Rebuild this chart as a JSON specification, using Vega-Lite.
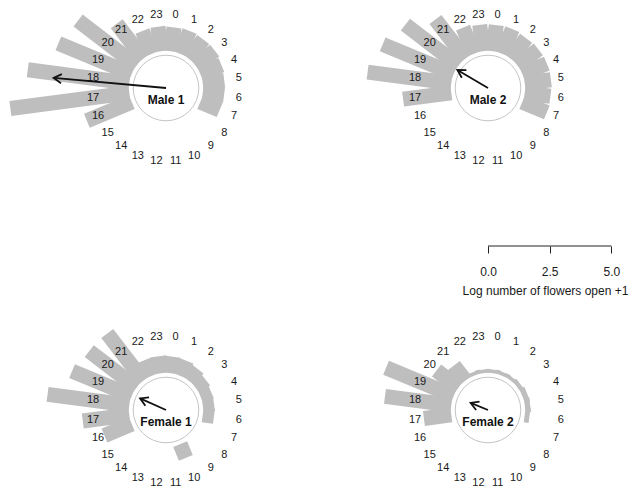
{
  "$schema": "https://vega.github.io/schema/vega-lite/v6.json",
  "padding": 0,
  "columns": 2,
  "spacing": 0,
  "bounds": "flush",
  "align": "each",
  "config": {
    "view": {"stroke": null},
    "font": "Liberation Sans"
  },
  "datasets": {
    "flowers": [
      {"plant": "Male 1", "hour": 0, "value": 0.97}, {"plant": "Male 1", "hour": 1, "value": 1.0},
      {"plant": "Male 1", "hour": 2, "value": 0.98}, {"plant": "Male 1", "hour": 3, "value": 0.99},
      {"plant": "Male 1", "hour": 4, "value": 0.93}, {"plant": "Male 1", "hour": 5, "value": 0.88},
      {"plant": "Male 1", "hour": 6, "value": 0.87}, {"plant": "Male 1", "hour": 7, "value": 0.85},
      {"plant": "Male 1", "hour": 8, "value": 0}, {"plant": "Male 1", "hour": 9, "value": 0},
      {"plant": "Male 1", "hour": 10, "value": 0}, {"plant": "Male 1", "hour": 11, "value": 0},
      {"plant": "Male 1", "hour": 12, "value": 0}, {"plant": "Male 1", "hour": 13, "value": 0},
      {"plant": "Male 1", "hour": 14, "value": 0}, {"plant": "Male 1", "hour": 15, "value": 0},
      {"plant": "Male 1", "hour": 16, "value": 1.97}, {"plant": "Male 1", "hour": 17, "value": 4.86},
      {"plant": "Male 1", "hour": 18, "value": 4.15}, {"plant": "Male 1", "hour": 19, "value": 3.22},
      {"plant": "Male 1", "hour": 20, "value": 2.99}, {"plant": "Male 1", "hour": 21, "value": 1.78},
      {"plant": "Male 1", "hour": 22, "value": 1.0}, {"plant": "Male 1", "hour": 23, "value": 1.0},

      {"plant": "Male 2", "hour": 0, "value": 1.07}, {"plant": "Male 2", "hour": 1, "value": 1.08},
      {"plant": "Male 2", "hour": 2, "value": 1.04}, {"plant": "Male 2", "hour": 3, "value": 1.07},
      {"plant": "Male 2", "hour": 4, "value": 1.08}, {"plant": "Male 2", "hour": 5, "value": 1.07},
      {"plant": "Male 2", "hour": 6, "value": 1.05}, {"plant": "Male 2", "hour": 7, "value": 1.08},
      {"plant": "Male 2", "hour": 8, "value": 0}, {"plant": "Male 2", "hour": 9, "value": 0},
      {"plant": "Male 2", "hour": 10, "value": 0}, {"plant": "Male 2", "hour": 11, "value": 0},
      {"plant": "Male 2", "hour": 12, "value": 0}, {"plant": "Male 2", "hour": 13, "value": 0},
      {"plant": "Male 2", "hour": 14, "value": 0}, {"plant": "Male 2", "hour": 15, "value": 0},
      {"plant": "Male 2", "hour": 16, "value": 0}, {"plant": "Male 2", "hour": 17, "value": 1.97},
      {"plant": "Male 2", "hour": 18, "value": 3.42}, {"plant": "Male 2", "hour": 19, "value": 3.12},
      {"plant": "Male 2", "hour": 20, "value": 2.72}, {"plant": "Male 2", "hour": 21, "value": 2.0},
      {"plant": "Male 2", "hour": 22, "value": 1.15}, {"plant": "Male 2", "hour": 23, "value": 1.08},

      {"plant": "Female 1", "hour": 0, "value": 0.68}, {"plant": "Female 1", "hour": 1, "value": 0.66},
      {"plant": "Female 1", "hour": 2, "value": 0.6}, {"plant": "Female 1", "hour": 3, "value": 0.52},
      {"plant": "Female 1", "hour": 4, "value": 0.47}, {"plant": "Female 1", "hour": 5, "value": 0.46},
      {"plant": "Female 1", "hour": 6, "value": 0.46}, {"plant": "Female 1", "hour": 7, "value": 0},
      {"plant": "Female 1", "hour": 8, "value": 0}, {"plant": "Female 1", "hour": 9, "value": 0},
      {"plant": "Female 1", "hour": 10, "value": 0.6}, {"plant": "Female 1", "hour": 11, "value": 0},
      {"plant": "Female 1", "hour": 12, "value": 0}, {"plant": "Female 1", "hour": 13, "value": 0},
      {"plant": "Female 1", "hour": 14, "value": 0}, {"plant": "Female 1", "hour": 15, "value": 0},
      {"plant": "Female 1", "hour": 16, "value": 1.2}, {"plant": "Female 1", "hour": 17, "value": 1.9},
      {"plant": "Female 1", "hour": 18, "value": 3.34}, {"plant": "Female 1", "hour": 19, "value": 2.62},
      {"plant": "Female 1", "hour": 20, "value": 2.42}, {"plant": "Female 1", "hour": 21, "value": 2.41},
      {"plant": "Female 1", "hour": 22, "value": 0.7}, {"plant": "Female 1", "hour": 23, "value": 0.7},

      {"plant": "Female 2", "hour": 0, "value": 0.15}, {"plant": "Female 2", "hour": 1, "value": 0.15},
      {"plant": "Female 2", "hour": 2, "value": 0.15}, {"plant": "Female 2", "hour": 3, "value": 0.18},
      {"plant": "Female 2", "hour": 4, "value": 0.22}, {"plant": "Female 2", "hour": 5, "value": 0.22},
      {"plant": "Female 2", "hour": 6, "value": 0.2}, {"plant": "Female 2", "hour": 7, "value": 0},
      {"plant": "Female 2", "hour": 8, "value": 0}, {"plant": "Female 2", "hour": 9, "value": 0},
      {"plant": "Female 2", "hour": 10, "value": 0}, {"plant": "Female 2", "hour": 11, "value": 0},
      {"plant": "Female 2", "hour": 12, "value": 0}, {"plant": "Female 2", "hour": 13, "value": 0},
      {"plant": "Female 2", "hour": 14, "value": 0}, {"plant": "Female 2", "hour": 15, "value": 0},
      {"plant": "Female 2", "hour": 16, "value": 0}, {"plant": "Female 2", "hour": 17, "value": 1.12},
      {"plant": "Female 2", "hour": 18, "value": 2.71}, {"plant": "Female 2", "hour": 19, "value": 2.97},
      {"plant": "Female 2", "hour": 20, "value": 1.13}, {"plant": "Female 2", "hour": 21, "value": 0.77},
      {"plant": "Female 2", "hour": 22, "value": 0.15}, {"plant": "Female 2", "hour": 23, "value": 0.15}
    ],
    "means": [
      {"plant": "Male 1", "hour": 18.34, "length": 4.57},
      {"plant": "Male 2", "hour": 20.03, "length": 1.44},
      {"plant": "Female 1", "hour": 19.61, "length": 1.15},
      {"plant": "Female 2", "hour": 19.47, "length": 0.76}
    ]
  },
  "concat": [
    {
      "width": 317, "height": 180,
      "encoding": {
        "x": {"field": "px", "type": "quantitative", "scale": {"domain": [-6.7261, 6.1183], "nice": false, "zero": false}, "axis": null},
        "y": {"field": "py", "type": "quantitative", "scale": {"domain": [-3.7277, 3.5656], "nice": false, "zero": false}, "axis": null}
      },
      "layer": [
        {
          "data": {"name": "flowers"},
          "transform": [
            {"filter": "datum.plant === 'Male 1'"},
            {"calculate": "(datum.hour + 0.5) * PI / 12", "as": "a"},
            {"calculate": "1.5 * sin(datum.a)", "as": "px"},
            {"calculate": "1.5 * cos(datum.a)", "as": "py"},
            {"calculate": "(1.5 + datum.value) * sin(datum.a)", "as": "qx"},
            {"calculate": "(1.5 + datum.value) * cos(datum.a)", "as": "qy"}
          ],
          "mark": {"type": "rule", "color": "#bebebe", "strokeWidth": 15, "strokeCap": "butt"},
          "encoding": {"x2": {"field": "qx"}, "y2": {"field": "qy"}}
        },
        {
          "data": {"name": "means"},
          "transform": [
            {"filter": "datum.plant === 'Male 1'"},
            {"calculate": "0", "as": "px"},
            {"calculate": "0", "as": "py"}
          ],
          "mark": {"type": "point", "shape": "circle", "size": 4306, "filled": true, "fill": "#ffffff", "stroke": "#c4c4c4", "strokeWidth": 1, "opacity": 1}
        },
        {
          "data": {"name": "flowers"},
          "transform": [
            {"filter": "datum.plant === 'Male 1'"},
            {"calculate": "(datum.hour + 0.5) * PI / 12", "as": "a"},
            {"calculate": "2.98 * sin(datum.a)", "as": "px"},
            {"calculate": "2.98 * cos(datum.a)", "as": "py"}
          ],
          "mark": {"type": "text", "fontSize": 11, "color": "#1a1a1a", "align": "center", "baseline": "middle"},
          "encoding": {"text": {"field": "hour", "type": "nominal"}}
        },
        {
          "data": {"name": "means"},
          "transform": [
            {"filter": "datum.plant === 'Male 1'"},
            {"calculate": "datum.hour * PI / 12", "as": "a"},
            {"calculate": "0", "as": "px"},
            {"calculate": "0", "as": "py"},
            {"calculate": "datum.length * sin(datum.a)", "as": "qx"},
            {"calculate": "datum.length * cos(datum.a)", "as": "qy"}
          ],
          "mark": {"type": "rule", "color": "#111111", "strokeWidth": 1.8},
          "encoding": {"x2": {"field": "qx"}, "y2": {"field": "qy"}}
        },
        {
          "data": {"name": "means"},
          "transform": [
            {"filter": "datum.plant === 'Male 1'"},
            {"calculate": "datum.hour * PI / 12", "as": "a"},
            {"calculate": "datum.length * sin(datum.a)", "as": "px"},
            {"calculate": "datum.length * cos(datum.a)", "as": "py"},
            {"calculate": "datum.hour * 15", "as": "deg"}
          ],
          "mark": {"type": "point", "shape": "M -0.5 0.866 L 0 0 L 0.5 0.866", "size": 324, "filled": false, "color": "#111111", "strokeWidth": 1.8, "opacity": 1},
          "encoding": {"angle": {"field": "deg", "type": "quantitative", "scale": null}}
        },
        {
          "data": {"name": "means"},
          "transform": [
            {"filter": "datum.plant === 'Male 1'"},
            {"calculate": "0", "as": "px"},
            {"calculate": "0", "as": "py"}
          ],
          "mark": {"type": "text", "fontSize": 12, "fontWeight": "bold", "dy": 12, "color": "#111111"},
          "encoding": {"text": {"field": "plant", "type": "nominal"}}
        }
      ]
    },
    {
      "width": 317, "height": 180,
      "encoding": {
        "x": {"field": "px", "type": "quantitative", "scale": {"domain": [-6.9287, 5.9157], "nice": false, "zero": false}, "axis": null},
        "y": {"field": "py", "type": "quantitative", "scale": {"domain": [-3.7277, 3.5656], "nice": false, "zero": false}, "axis": null}
      },
      "layer": [
        {
          "data": {"name": "flowers"},
          "transform": [
            {"filter": "datum.plant === 'Male 2'"},
            {"calculate": "(datum.hour + 0.5) * PI / 12", "as": "a"},
            {"calculate": "1.5 * sin(datum.a)", "as": "px"},
            {"calculate": "1.5 * cos(datum.a)", "as": "py"},
            {"calculate": "(1.5 + datum.value) * sin(datum.a)", "as": "qx"},
            {"calculate": "(1.5 + datum.value) * cos(datum.a)", "as": "qy"}
          ],
          "mark": {"type": "rule", "color": "#bebebe", "strokeWidth": 15, "strokeCap": "butt"},
          "encoding": {"x2": {"field": "qx"}, "y2": {"field": "qy"}}
        },
        {
          "data": {"name": "means"},
          "transform": [
            {"filter": "datum.plant === 'Male 2'"},
            {"calculate": "0", "as": "px"},
            {"calculate": "0", "as": "py"}
          ],
          "mark": {"type": "point", "shape": "circle", "size": 4306, "filled": true, "fill": "#ffffff", "stroke": "#c4c4c4", "strokeWidth": 1, "opacity": 1}
        },
        {
          "data": {"name": "flowers"},
          "transform": [
            {"filter": "datum.plant === 'Male 2'"},
            {"calculate": "(datum.hour + 0.5) * PI / 12", "as": "a"},
            {"calculate": "2.98 * sin(datum.a)", "as": "px"},
            {"calculate": "2.98 * cos(datum.a)", "as": "py"}
          ],
          "mark": {"type": "text", "fontSize": 11, "color": "#1a1a1a", "align": "center", "baseline": "middle"},
          "encoding": {"text": {"field": "hour", "type": "nominal"}}
        },
        {
          "data": {"name": "means"},
          "transform": [
            {"filter": "datum.plant === 'Male 2'"},
            {"calculate": "datum.hour * PI / 12", "as": "a"},
            {"calculate": "0", "as": "px"},
            {"calculate": "0", "as": "py"},
            {"calculate": "datum.length * sin(datum.a)", "as": "qx"},
            {"calculate": "datum.length * cos(datum.a)", "as": "qy"}
          ],
          "mark": {"type": "rule", "color": "#111111", "strokeWidth": 1.8},
          "encoding": {"x2": {"field": "qx"}, "y2": {"field": "qy"}}
        },
        {
          "data": {"name": "means"},
          "transform": [
            {"filter": "datum.plant === 'Male 2'"},
            {"calculate": "datum.hour * PI / 12", "as": "a"},
            {"calculate": "datum.length * sin(datum.a)", "as": "px"},
            {"calculate": "datum.length * cos(datum.a)", "as": "py"},
            {"calculate": "datum.hour * 15", "as": "deg"}
          ],
          "mark": {"type": "point", "shape": "M -0.5 0.866 L 0 0 L 0.5 0.866", "size": 324, "filled": false, "color": "#111111", "strokeWidth": 1.8, "opacity": 1},
          "encoding": {"angle": {"field": "deg", "type": "quantitative", "scale": null}}
        },
        {
          "data": {"name": "means"},
          "transform": [
            {"filter": "datum.plant === 'Male 2'"},
            {"calculate": "0", "as": "px"},
            {"calculate": "0", "as": "py"}
          ],
          "mark": {"type": "text", "fontSize": 12, "fontWeight": "bold", "dy": 12, "color": "#111111"},
          "encoding": {"text": {"field": "plant", "type": "nominal"}}
        }
      ]
    },
    {
      "width": 317, "height": 66,
      "data": {"values": []},
      "mark": "point"
    },
    {
      "width": 317, "height": 66,
      "data": {"values": [{"from": 0, "to": 5}]},
      "mark": {"type": "rule", "color": "#222222", "strokeWidth": 1},
      "encoding": {
        "x": {
          "field": "from", "type": "quantitative",
          "scale": {"domain": [-6.9287, 5.9157], "nice": false, "zero": false},
          "axis": {
            "values": [0, 2.5, 5], "format": ".1f", "grid": false, "domain": false,
            "labelFlush": false, "labelFontSize": 12, "labelColor": "#1a1a1a", "labelPadding": 13,
            "tickColor": "#222222", "tickWidth": 1, "tickSize": 7,
            "title": "Log number of flowers open +1", "titleFontSize": 12, "titleFontWeight": "normal",
            "titleColor": "#1a1a1a", "titlePadding": 8, "titleX": 228, "titleAlign": "center"
          }
        },
        "x2": {"field": "to"},
        "y": {"datum": 0, "type": "quantitative", "scale": {"domain": [0, 1]}, "axis": null}
      }
    },
    {
      "width": 317, "height": 243,
      "encoding": {
        "x": {"field": "px", "type": "quantitative", "scale": {"domain": [-6.7261, 6.1183], "nice": false, "zero": false}, "axis": null},
        "y": {"field": "py", "type": "quantitative", "scale": {"domain": [-3.2010, 6.6451], "nice": false, "zero": false}, "axis": null}
      },
      "layer": [
        {
          "data": {"name": "flowers"},
          "transform": [
            {"filter": "datum.plant === 'Female 1'"},
            {"calculate": "(datum.hour + 0.5) * PI / 12", "as": "a"},
            {"calculate": "1.5 * sin(datum.a)", "as": "px"},
            {"calculate": "1.5 * cos(datum.a)", "as": "py"},
            {"calculate": "(1.5 + datum.value) * sin(datum.a)", "as": "qx"},
            {"calculate": "(1.5 + datum.value) * cos(datum.a)", "as": "qy"}
          ],
          "mark": {"type": "rule", "color": "#bebebe", "strokeWidth": 15, "strokeCap": "butt"},
          "encoding": {"x2": {"field": "qx"}, "y2": {"field": "qy"}}
        },
        {
          "data": {"name": "means"},
          "transform": [
            {"filter": "datum.plant === 'Female 1'"},
            {"calculate": "0", "as": "px"},
            {"calculate": "0", "as": "py"}
          ],
          "mark": {"type": "point", "shape": "circle", "size": 4306, "filled": true, "fill": "#ffffff", "stroke": "#c4c4c4", "strokeWidth": 1, "opacity": 1}
        },
        {
          "data": {"name": "flowers"},
          "transform": [
            {"filter": "datum.plant === 'Female 1'"},
            {"calculate": "(datum.hour + 0.5) * PI / 12", "as": "a"},
            {"calculate": "2.98 * sin(datum.a)", "as": "px"},
            {"calculate": "2.98 * cos(datum.a)", "as": "py"}
          ],
          "mark": {"type": "text", "fontSize": 11, "color": "#1a1a1a", "align": "center", "baseline": "middle"},
          "encoding": {"text": {"field": "hour", "type": "nominal"}}
        },
        {
          "data": {"name": "means"},
          "transform": [
            {"filter": "datum.plant === 'Female 1'"},
            {"calculate": "datum.hour * PI / 12", "as": "a"},
            {"calculate": "0", "as": "px"},
            {"calculate": "0", "as": "py"},
            {"calculate": "datum.length * sin(datum.a)", "as": "qx"},
            {"calculate": "datum.length * cos(datum.a)", "as": "qy"}
          ],
          "mark": {"type": "rule", "color": "#111111", "strokeWidth": 1.8},
          "encoding": {"x2": {"field": "qx"}, "y2": {"field": "qy"}}
        },
        {
          "data": {"name": "means"},
          "transform": [
            {"filter": "datum.plant === 'Female 1'"},
            {"calculate": "datum.hour * PI / 12", "as": "a"},
            {"calculate": "datum.length * sin(datum.a)", "as": "px"},
            {"calculate": "datum.length * cos(datum.a)", "as": "py"},
            {"calculate": "datum.hour * 15", "as": "deg"}
          ],
          "mark": {"type": "point", "shape": "M -0.5 0.866 L 0 0 L 0.5 0.866", "size": 324, "filled": false, "color": "#111111", "strokeWidth": 1.8, "opacity": 1},
          "encoding": {"angle": {"field": "deg", "type": "quantitative", "scale": null}}
        },
        {
          "data": {"name": "means"},
          "transform": [
            {"filter": "datum.plant === 'Female 1'"},
            {"calculate": "0", "as": "px"},
            {"calculate": "0", "as": "py"}
          ],
          "mark": {"type": "text", "fontSize": 12, "fontWeight": "bold", "dy": 12, "color": "#111111"},
          "encoding": {"text": {"field": "plant", "type": "nominal"}}
        }
      ]
    },
    {
      "width": 317, "height": 243,
      "encoding": {
        "x": {"field": "px", "type": "quantitative", "scale": {"domain": [-6.9287, 5.9157], "nice": false, "zero": false}, "axis": null},
        "y": {"field": "py", "type": "quantitative", "scale": {"domain": [-3.2010, 6.6451], "nice": false, "zero": false}, "axis": null}
      },
      "layer": [
        {
          "data": {"name": "flowers"},
          "transform": [
            {"filter": "datum.plant === 'Female 2'"},
            {"calculate": "(datum.hour + 0.5) * PI / 12", "as": "a"},
            {"calculate": "1.5 * sin(datum.a)", "as": "px"},
            {"calculate": "1.5 * cos(datum.a)", "as": "py"},
            {"calculate": "(1.5 + datum.value) * sin(datum.a)", "as": "qx"},
            {"calculate": "(1.5 + datum.value) * cos(datum.a)", "as": "qy"}
          ],
          "mark": {"type": "rule", "color": "#bebebe", "strokeWidth": 15, "strokeCap": "butt"},
          "encoding": {"x2": {"field": "qx"}, "y2": {"field": "qy"}}
        },
        {
          "data": {"name": "means"},
          "transform": [
            {"filter": "datum.plant === 'Female 2'"},
            {"calculate": "0", "as": "px"},
            {"calculate": "0", "as": "py"}
          ],
          "mark": {"type": "point", "shape": "circle", "size": 4306, "filled": true, "fill": "#ffffff", "stroke": "#c4c4c4", "strokeWidth": 1, "opacity": 1}
        },
        {
          "data": {"name": "flowers"},
          "transform": [
            {"filter": "datum.plant === 'Female 2'"},
            {"calculate": "(datum.hour + 0.5) * PI / 12", "as": "a"},
            {"calculate": "2.98 * sin(datum.a)", "as": "px"},
            {"calculate": "2.98 * cos(datum.a)", "as": "py"}
          ],
          "mark": {"type": "text", "fontSize": 11, "color": "#1a1a1a", "align": "center", "baseline": "middle"},
          "encoding": {"text": {"field": "hour", "type": "nominal"}}
        },
        {
          "data": {"name": "means"},
          "transform": [
            {"filter": "datum.plant === 'Female 2'"},
            {"calculate": "datum.hour * PI / 12", "as": "a"},
            {"calculate": "0", "as": "px"},
            {"calculate": "0", "as": "py"},
            {"calculate": "datum.length * sin(datum.a)", "as": "qx"},
            {"calculate": "datum.length * cos(datum.a)", "as": "qy"}
          ],
          "mark": {"type": "rule", "color": "#111111", "strokeWidth": 1.8},
          "encoding": {"x2": {"field": "qx"}, "y2": {"field": "qy"}}
        },
        {
          "data": {"name": "means"},
          "transform": [
            {"filter": "datum.plant === 'Female 2'"},
            {"calculate": "datum.hour * PI / 12", "as": "a"},
            {"calculate": "datum.length * sin(datum.a)", "as": "px"},
            {"calculate": "datum.length * cos(datum.a)", "as": "py"},
            {"calculate": "datum.hour * 15", "as": "deg"}
          ],
          "mark": {"type": "point", "shape": "M -0.5 0.866 L 0 0 L 0.5 0.866", "size": 324, "filled": false, "color": "#111111", "strokeWidth": 1.8, "opacity": 1},
          "encoding": {"angle": {"field": "deg", "type": "quantitative", "scale": null}}
        },
        {
          "data": {"name": "means"},
          "transform": [
            {"filter": "datum.plant === 'Female 2'"},
            {"calculate": "0", "as": "px"},
            {"calculate": "0", "as": "py"}
          ],
          "mark": {"type": "text", "fontSize": 12, "fontWeight": "bold", "dy": 12, "color": "#111111"},
          "encoding": {"text": {"field": "plant", "type": "nominal"}}
        }
      ]
    }
  ]
}
